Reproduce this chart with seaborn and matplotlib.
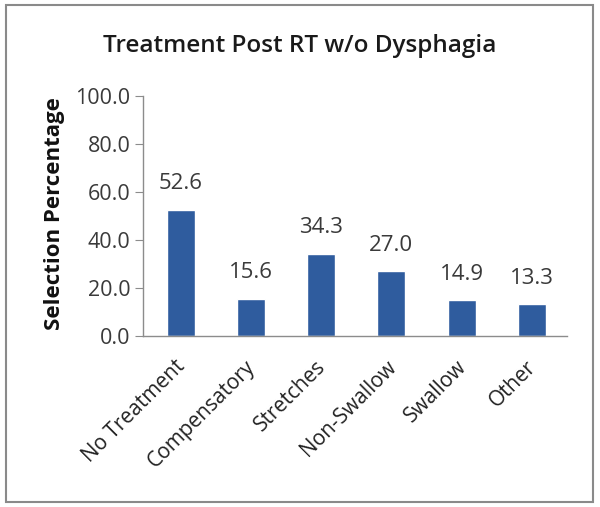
import matplotlib
matplotlib.use("Agg")
import matplotlib.pyplot as plt
import matplotlib.transforms as mtransforms
import seaborn as sns
import pandas as pd
from matplotlib.patches import Rectangle

# Data
categories = ['No Treatment', 'Compensatory', 'Stretches', 'Non-Swallow', 'Swallow', 'Other']
values = [52.6, 15.6, 34.3, 27.0, 14.9, 13.3]
yticks = [0, 20, 40, 60, 80, 100]

df = pd.DataFrame({'categoria': categories, 'porcentaje': values})

sns.set_style("white")
plt.rcParams['font.family'] = ['Open Sans', 'DejaVu Sans']

fig = plt.figure(figsize=(6, 5.07), dpi=100)
ax = fig.add_axes([0.238, 0.337, 0.707, 0.474])

sns.barplot(x='categoria', y='porcentaje', data=df, color='#2F5C9E',
            width=0.4, saturation=1, ax=ax)

# etiquetas de valor
for i, v in enumerate(values):
    ax.text(i, v + 6.5, f"{v:.1f}", ha='center', va='bottom', fontsize=16, color='#3a3a3a')

ax.set_ylim(0, 100)
ax.set_yticks(yticks)
ax.set_yticklabels([f"{t:.1f}" for t in yticks], fontsize=15.5, color='#3a3a3a')
ax.set_xticks(range(len(categories)))
ax.set_xticklabels(categories, rotation=45, ha='right', rotation_mode='anchor',
                   fontsize=15, color='#222222')
ax.set_xlabel("")
ax.set_ylabel("Selection Percentage", fontsize=16, fontweight='bold', color='#111111')
ax.yaxis.set_label_coords(-0.184, 0.51)
ax.set_xlim(-0.54, 5.5)

for s in ['top', 'right']:
    ax.spines[s].set_visible(False)
for s in ['left', 'bottom']:
    ax.spines[s].set_color('#8c8c8c')
    ax.spines[s].set_linewidth(1)
ax.tick_params(axis='y', which='both', left=True, length=6, color='#8c8c8c', pad=3)
ax.tick_params(axis='x', bottom=False, pad=11)

# desplazar un poco las etiquetas del eje x a la izquierda
offset = mtransforms.ScaledTranslation(-6 / 100, 0, fig.dpi_scale_trans)
for lbl in ax.get_xticklabels():
    lbl.set_transform(lbl.get_transform() + offset)

fig.text(0.5, 0.909, "Treatment Post RT w/o Dysphagia", ha='center', va='center',
         fontsize=17.5, fontweight='semibold', color='#1a1a1a')

# marco exterior
fig.patches.append(Rectangle((0.01, 0.01), 0.978, 0.98, transform=fig.transFigure,
                             fill=False, edgecolor='#8a8a8a', linewidth=1.5))

fig.savefig("out.png", dpi=100)
